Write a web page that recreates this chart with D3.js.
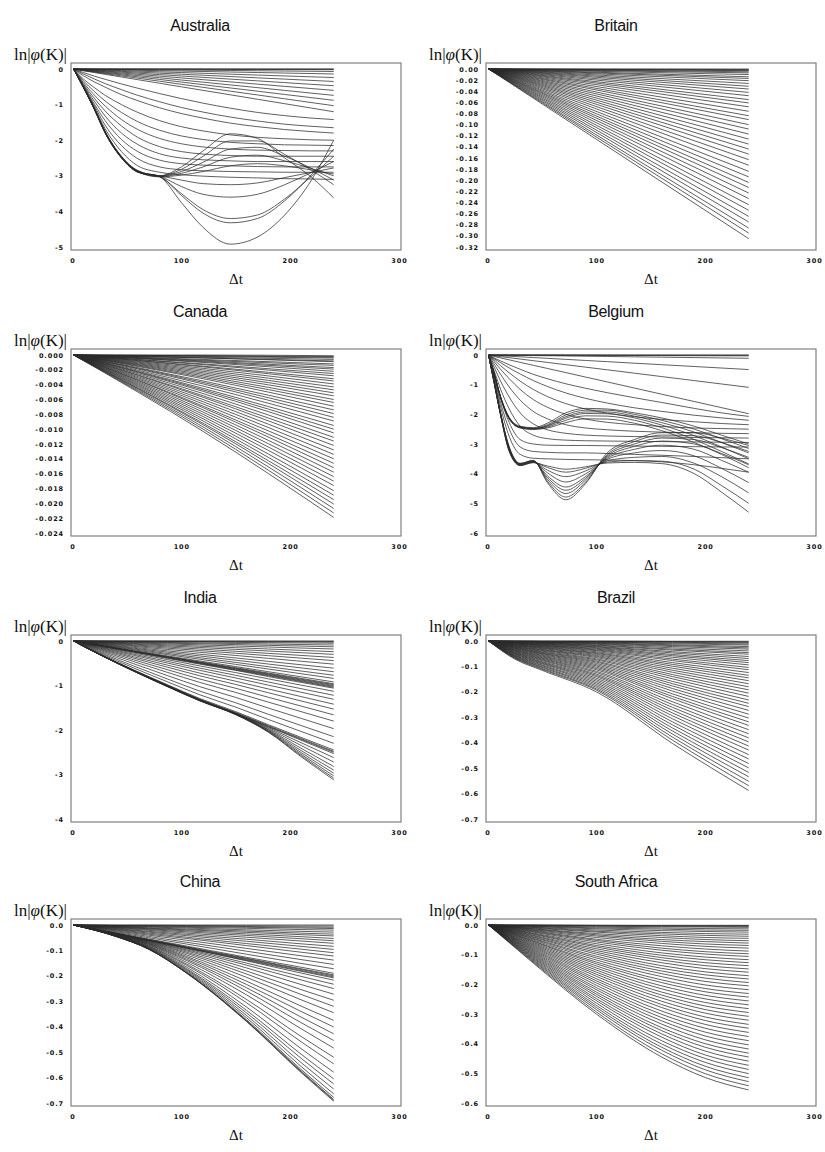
<!DOCTYPE html>
<html>
<head>
<meta charset="utf-8">
<script src="https://cdn.jsdelivr.net/npm/d3@7"></script>
<style>
  body { margin: 0; background: #fff; }
  svg { display: block; }
</style>
</head>
<body>
<svg id="chart" width="825" height="1152"></svg>
<script>
// ── data: ln|phi(K)| against Δt, one row per K, values at each panel's Δt samples ──
var dtTicks = [0, 100, 200, 300];

var australiaTicks = [0, -1, -2, -3, -4, -5];
var australiaDt = [1, 10, 20, 30, 45, 60, 80, 100, 120, 145, 170, 195, 220, 240];
var australiaCurves = [
  [0,0,0,0,0,0,0,0,0,0,0,0,0,0],
  [0,0,0,-0.001,-0.001,-0.001,-0.002,-0.002,-0.003,-0.003,-0.004,-0.004,-0.005,-0.005],
  [0,-0.001,-0.002,-0.003,-0.004,-0.005,-0.007,-0.008,-0.01,-0.012,-0.014,-0.016,-0.018,-0.02],
  [0,-0.003,-0.006,-0.009,-0.013,-0.018,-0.023,-0.029,-0.035,-0.042,-0.05,-0.057,-0.064,-0.07],
  [0,-0.006,-0.012,-0.018,-0.026,-0.035,-0.047,-0.058,-0.07,-0.085,-0.099,-0.114,-0.128,-0.14],
  [0,-0.01,-0.02,-0.03,-0.045,-0.06,-0.08,-0.1,-0.12,-0.145,-0.17,-0.195,-0.22,-0.24],
  [0,-0.015,-0.029,-0.044,-0.066,-0.088,-0.117,-0.146,-0.175,-0.211,-0.248,-0.284,-0.321,-0.35],
  [0,-0.02,-0.039,-0.059,-0.088,-0.118,-0.157,-0.196,-0.235,-0.284,-0.333,-0.382,-0.431,-0.47],
  [0,-0.025,-0.05,-0.075,-0.113,-0.15,-0.2,-0.25,-0.3,-0.362,-0.425,-0.488,-0.55,-0.6],
  [0,-0.031,-0.061,-0.093,-0.139,-0.185,-0.246,-0.309,-0.37,-0.447,-0.524,-0.601,-0.679,-0.74],
  [0,-0.037,-0.073,-0.11,-0.165,-0.22,-0.293,-0.367,-0.44,-0.532,-0.623,-0.715,-0.807,-0.88],
  [0,-0.043,-0.085,-0.129,-0.193,-0.258,-0.343,-0.43,-0.515,-0.622,-0.729,-0.837,-0.945,-1.03],
  [0,-0.05,-0.1,-0.15,-0.225,-0.3,-0.4,-0.5,-0.6,-0.725,-0.85,-0.975,-1.1,-1.2],
  [0,-0.1,-0.2,-0.29,-0.42,-0.54,-0.69,-0.83,-0.96,-1.1,-1.22,-1.31,-1.38,-1.42],
  [0,-0.14,-0.28,-0.41,-0.58,-0.74,-0.92,-1.08,-1.21,-1.35,-1.46,-1.55,-1.61,-1.65],
  [0,-0.19,-0.36,-0.51,-0.72,-0.89,-1.09,-1.25,-1.38,-1.52,-1.62,-1.7,-1.76,-1.8],
  [0,-0.28,-0.52,-0.74,-1.0,-1.22,-1.45,-1.62,-1.74,-1.85,-1.92,-1.96,-1.99,-2.0],
  [0,-0.33,-0.63,-0.9,-1.22,-1.48,-1.72,-1.88,-1.98,-2.06,-2.1,-2.13,-2.14,-2.15],
  [0,-0.38,-0.73,-1.04,-1.42,-1.7,-1.95,-2.1,-2.19,-2.25,-2.28,-2.29,-2.3,-2.3],
  [0,-0.42,-0.82,-1.18,-1.6,-1.92,-2.18,-2.32,-2.39,-2.43,-2.45,-2.45,-2.45,-2.45],
  [0,-0.45,-0.9,-1.32,-1.8,-2.12,-2.38,-2.5,-2.55,-2.58,-2.6,-2.6,-2.6,-2.6],
  [0,-0.47,-0.98,-1.45,-1.98,-2.32,-2.56,-2.66,-2.7,-2.72,-2.74,-2.75,-2.75,-2.75],
  [0,-0.48,-1.03,-1.58,-2.15,-2.52,-2.75,-2.83,-2.86,-2.88,-2.89,-2.9,-2.9,-2.9],
  [0,-0.5,-1.08,-1.68,-2.32,-2.72,-2.9,-2.97,-3.01,-3.04,-3.06,-3.08,-3.09,-3.1],
  [0,-0.5,-1.1,-1.75,-2.45,-2.85,-3.0,-2.75,-2.3,-1.82,-1.95,-2.5,-3.05,-3.62],
  [0,-0.5,-1.1,-1.76,-2.46,-2.86,-3.0,-2.82,-2.45,-2.02,-2.02,-2.4,-2.85,-3.25],
  [0,-0.51,-1.11,-1.77,-2.47,-2.87,-3.01,-2.88,-2.62,-2.25,-2.2,-2.45,-2.8,-3.12],
  [0,-0.51,-1.12,-1.78,-2.48,-2.88,-3.02,-2.93,-2.75,-2.48,-2.42,-2.58,-2.8,-3.0],
  [0,-0.52,-1.12,-1.79,-2.49,-2.89,-3.03,-2.98,-2.88,-2.72,-2.66,-2.72,-2.84,-2.95],
  [0,-0.52,-1.13,-1.8,-2.5,-2.9,-3.03,-3.75,-4.45,-4.92,-4.72,-4.1,-3.1,-2.0],
  [0,-0.52,-1.13,-1.8,-2.5,-2.9,-3.02,-3.55,-4.05,-4.32,-4.2,-3.7,-2.95,-2.25],
  [0,-0.51,-1.12,-1.79,-2.49,-2.89,-3.02,-3.5,-3.95,-4.2,-4.1,-3.65,-3.0,-2.45],
  [0,-0.51,-1.11,-1.78,-2.48,-2.88,-3.01,-3.3,-3.52,-3.6,-3.52,-3.25,-2.9,-2.6],
  [0,-0.5,-1.1,-1.77,-2.47,-2.87,-3.0,-3.12,-3.22,-3.25,-3.2,-3.05,-2.9,-2.78]
];

var britainTicks = [0, -0.02, -0.04, -0.06, -0.08, -0.10, -0.12, -0.14, -0.16, -0.18, -0.20, -0.22, -0.24, -0.26, -0.28, -0.30, -0.32];
var britainDt = [1, 240];
var britainCurves = [
  [0,-0.305],[0,-0.295],[0,-0.286],[0,-0.275],[0,-0.265],[0,-0.254],[0,-0.244],[0,-0.233],
  [0,-0.223],[0,-0.213],[0,-0.204],[0,-0.194],[0,-0.184],[0,-0.173],[0,-0.163],[0,-0.153],
  [0,-0.144],[0,-0.135],[0,-0.126],[0,-0.117],[0,-0.108],[0,-0.1],[0,-0.091],[0,-0.084],
  [0,-0.076],[0,-0.068],[0,-0.061],[0,-0.055],[0,-0.048],[0,-0.042],[0,-0.036],[0,-0.031],
  [0,-0.026],[0,-0.021],[0,-0.017],[0,-0.014],[0,-0.01],[0,-0.007],[0,-0.005],[0,-0.003],
  [0,-0.002],[0,-0.001],[0,0]
];

var canadaTicks = [0, -0.002, -0.004, -0.006, -0.008, -0.010, -0.012, -0.014, -0.016, -0.018, -0.020, -0.022, -0.024];
var canadaDt = [1, 120, 240];
var canadaCurves = [
  [0,-0.0103,-0.0219],[0,-0.0100,-0.0213],[0,-0.0097,-0.0207],[0,-0.0094,-0.0201],[0,-0.0092,-0.0195],
  [0,-0.0089,-0.0189],[0,-0.0086,-0.0183],[0,-0.0083,-0.0176],[0,-0.0080,-0.0170],[0,-0.0077,-0.0164],
  [0,-0.0074,-0.0158],[0,-0.0071,-0.0152],[0,-0.0069,-0.0146],[0,-0.0066,-0.0140],[0,-0.0063,-0.0134],
  [0,-0.0060,-0.0128],[0,-0.0057,-0.0122],[0,-0.0055,-0.0116],[0,-0.0052,-0.0111],[0,-0.0049,-0.0105],
  [0,-0.0047,-0.0100],[0,-0.0045,-0.0095],[0,-0.0042,-0.0089],[0,-0.0039,-0.0084],[0,-0.0037,-0.0079],
  [0,-0.0035,-0.0074],[0,-0.0032,-0.0069],[0,-0.0030,-0.0064],[0,-0.0028,-0.0060],[0,-0.0026,-0.0055],
  [0,-0.0024,-0.0051],[0,-0.0022,-0.0047],[0,-0.0020,-0.0043],[0,-0.0018,-0.0039],[0,-0.0016,-0.0035],
  [0,-0.0015,-0.0032],[0,-0.0013,-0.0028],[0,-0.0012,-0.0025],[0,-0.0010,-0.0022],[0,-0.0009,-0.0019],
  [0,-0.0008,-0.0017],[0,-0.0007,-0.0014],[0,-0.0006,-0.0012],[0,-0.0004,-0.0009],[0,-0.0004,-0.0008],
  [0,-0.0003,-0.0006],[0,-0.0002,-0.0004],[0,-0.0001,-0.0003],[0,-0.0001,-0.0002],[0,0,-0.0001]
];

var belgiumTicks = [0, -1, -2, -3, -4, -5, -6];
var belgiumDt = [1, 6, 12, 20, 30, 42, 55, 72, 90, 110, 135, 160, 190, 215, 240];
var belgiumCurves = [
  [0,0,0,0,0,0,0,0,0,0,0,0,0,0,0],
  [0,0,-0.001,-0.001,-0.001,-0.002,-0.002,-0.003,-0.004,-0.005,-0.006,-0.007,-0.008,-0.009,-0.01],
  [0,-0.001,-0.002,-0.002,-0.004,-0.005,-0.007,-0.009,-0.011,-0.014,-0.017,-0.02,-0.024,-0.027,-0.03],
  [0,-0.003,-0.006,-0.009,-0.014,-0.019,-0.025,-0.033,-0.041,-0.05,-0.062,-0.073,-0.087,-0.099,-0.11],
  [0,-0.012,-0.025,-0.041,-0.061,-0.086,-0.112,-0.147,-0.184,-0.224,-0.276,-0.327,-0.388,-0.439,-0.49],
  [0,-0.027,-0.055,-0.09,-0.136,-0.191,-0.25,-0.327,-0.409,-0.499,-0.613,-0.727,-0.863,-0.977,-1.09],
  [0,-0.05,-0.099,-0.164,-0.248,-0.347,-0.453,-0.594,-0.743,-0.907,-1.114,-1.321,-1.568,-1.774,-1.98],
  [0,-0.1,-0.2,-0.33,-0.48,-0.65,-0.8,-0.97,-1.12,-1.27,-1.44,-1.6,-1.8,-1.95,-2.07],
  [0,-0.12,-0.26,-0.44,-0.64,-0.86,-1.06,-1.28,-1.46,-1.62,-1.78,-1.9,-2.03,-2.12,-2.2],
  [0,-0.16,-0.36,-0.6,-0.88,-1.16,-1.4,-1.64,-1.82,-1.96,-2.08,-2.17,-2.25,-2.31,-2.35],
  [0,-0.22,-0.48,-0.8,-1.16,-1.5,-1.76,-2.0,-2.16,-2.27,-2.35,-2.41,-2.46,-2.48,-2.5],
  [0,-0.3,-0.65,-1.08,-1.52,-1.9,-2.15,-2.35,-2.46,-2.52,-2.57,-2.6,-2.62,-2.64,-2.65],
  [0,-0.4,-0.88,-1.42,-1.95,-2.32,-2.52,-2.64,-2.7,-2.73,-2.75,-2.76,-2.78,-2.79,-2.8],
  [0,-0.52,-1.15,-1.82,-2.4,-2.7,-2.82,-2.87,-2.89,-2.9,-2.91,-2.92,-2.93,-2.94,-2.95],
  [0,-0.65,-1.45,-2.28,-2.85,-3.0,-3.04,-3.05,-3.05,-3.06,-3.07,-3.08,-3.09,-3.1,-3.1],
  [0,-0.7,-1.6,-2.5,-3.1,-3.25,-3.28,-3.3,-3.3,-3.32,-3.35,-3.38,-3.42,-3.46,-3.5],
  [0,-0.75,-1.75,-2.75,-3.35,-3.48,-3.5,-3.52,-3.53,-3.54,-3.56,-3.6,-3.7,-3.82,-3.95],
  [0,-0.6,-1.4,-2.1,-2.4,-2.45,-2.3,-1.95,-1.8,-1.82,-1.95,-2.12,-2.4,-2.7,-3.0],
  [0,-0.6,-1.41,-2.12,-2.42,-2.47,-2.35,-2.02,-1.86,-1.86,-2.0,-2.2,-2.5,-2.82,-3.15],
  [0,-0.61,-1.42,-2.13,-2.43,-2.48,-2.38,-2.08,-1.92,-1.92,-2.06,-2.28,-2.6,-2.95,-3.3],
  [0,-0.61,-1.42,-2.14,-2.44,-2.49,-2.4,-2.13,-1.97,-1.98,-2.12,-2.36,-2.72,-3.1,-3.5],
  [0,-0.62,-1.43,-2.15,-2.45,-2.5,-2.43,-2.2,-2.05,-2.06,-2.2,-2.45,-2.85,-3.25,-3.67],
  [0,-0.62,-1.43,-2.16,-2.46,-2.51,-2.46,-2.28,-2.15,-2.16,-2.3,-2.55,-2.95,-3.35,-3.8],
  [0,-0.85,-1.95,-3.1,-3.65,-3.55,-4.3,-4.88,-4.34,-3.3,-2.85,-2.62,-2.62,-2.8,-3.05],
  [0,-0.86,-1.96,-3.12,-3.66,-3.56,-4.25,-4.79,-4.29,-3.36,-2.92,-2.7,-2.72,-2.95,-3.25],
  [0,-0.87,-1.97,-3.14,-3.67,-3.57,-4.19,-4.67,-4.22,-3.4,-3.0,-2.8,-2.85,-3.12,-3.45],
  [0,-0.88,-1.98,-3.16,-3.68,-3.58,-4.13,-4.56,-4.16,-3.44,-3.08,-2.9,-3.0,-3.32,-3.7],
  [0,-0.89,-1.99,-3.18,-3.69,-3.59,-4.07,-4.45,-4.1,-3.48,-3.18,-3.04,-3.18,-3.55,-3.95],
  [0,-0.9,-2.0,-3.2,-3.7,-3.6,-3.97,-4.28,-4.01,-3.52,-3.3,-3.22,-3.4,-3.82,-4.3],
  [0,-0.91,-2.01,-3.22,-3.71,-3.61,-3.88,-4.1,-3.91,-3.57,-3.45,-3.42,-3.65,-4.1,-4.65],
  [0,-0.92,-2.02,-3.24,-3.72,-3.62,-3.79,-3.95,-3.82,-3.61,-3.56,-3.58,-3.85,-4.4,-5.0],
  [0,-0.93,-2.03,-3.26,-3.73,-3.63,-3.74,-3.85,-3.77,-3.64,-3.62,-3.66,-4.0,-4.62,-5.3]
];

var indiaTicks = [0, -1, -2, -3, -4];
var indiaDt = [1, 25, 56, 87, 117, 150, 180, 210, 240];
var indiaCurves = [
  [0,0,0,0,0,0,0,0,0],
  [0,-0.001,-0.002,-0.004,-0.005,-0.006,-0.008,-0.009,-0.01],
  [0,-0.003,-0.006,-0.009,-0.012,-0.016,-0.019,-0.022,-0.025],
  [0,-0.005,-0.012,-0.018,-0.024,-0.031,-0.038,-0.044,-0.05],
  [0,-0.009,-0.021,-0.033,-0.044,-0.056,-0.068,-0.079,-0.09],
  [0,-0.014,-0.03,-0.047,-0.063,-0.081,-0.098,-0.114,-0.13],
  [0,-0.019,-0.042,-0.065,-0.088,-0.113,-0.135,-0.158,-0.18],
  [0,-0.025,-0.056,-0.087,-0.117,-0.15,-0.18,-0.21,-0.24],
  [0,-0.031,-0.07,-0.109,-0.146,-0.188,-0.225,-0.263,-0.3],
  [0,-0.038,-0.086,-0.134,-0.18,-0.231,-0.278,-0.324,-0.37],
  [0,-0.046,-0.103,-0.16,-0.215,-0.275,-0.33,-0.385,-0.44],
  [0,-0.054,-0.121,-0.189,-0.254,-0.325,-0.39,-0.455,-0.52],
  [0,-0.063,-0.142,-0.221,-0.297,-0.381,-0.458,-0.534,-0.61],
  [0,-0.072,-0.161,-0.25,-0.336,-0.431,-0.518,-0.604,-0.69],
  [0,-0.08,-0.179,-0.279,-0.375,-0.481,-0.578,-0.674,-0.77],
  [0,-0.087,-0.196,-0.305,-0.41,-0.525,-0.63,-0.735,-0.84],
  [0,-0.096,-0.214,-0.334,-0.449,-0.575,-0.69,-0.805,-0.92],
  [0,-0.1,-0.224,-0.348,-0.468,-0.6,-0.72,-0.84,-0.96],
  [0,-0.102,-0.228,-0.355,-0.478,-0.613,-0.735,-0.858,-0.98],
  [0,-0.104,-0.233,-0.363,-0.488,-0.625,-0.75,-0.875,-1.0],
  [0,-0.106,-0.238,-0.37,-0.497,-0.638,-0.765,-0.893,-1.02],
  [0,-0.108,-0.242,-0.377,-0.507,-0.65,-0.78,-0.91,-1.04],
  [0,-0.11,-0.25,-0.39,-0.52,-0.66,-0.8,-0.93,-1.06],
  [0,-0.121,-0.27,-0.418,-0.56,-0.711,-0.851,-0.991,-1.13],
  [0,-0.133,-0.296,-0.456,-0.61,-0.771,-0.922,-1.071,-1.22],
  [0,-0.145,-0.321,-0.494,-0.66,-0.831,-0.992,-1.151,-1.31],
  [0,-0.159,-0.353,-0.541,-0.721,-0.904,-1.078,-1.249,-1.42],
  [0,-0.173,-0.384,-0.588,-0.782,-0.977,-1.163,-1.347,-1.53],
  [0,-0.19,-0.421,-0.643,-0.854,-1.063,-1.265,-1.462,-1.66],
  [0,-0.209,-0.461,-0.703,-0.931,-1.156,-1.374,-1.587,-1.8],
  [0,-0.231,-0.509,-0.775,-1.026,-1.268,-1.507,-1.738,-1.97],
  [0,-0.254,-0.56,-0.851,-1.126,-1.388,-1.647,-1.899,-2.15],
  [0,-0.274,-0.603,-0.915,-1.209,-1.487,-1.764,-2.032,-2.3],
  [0,-0.293,-0.646,-0.979,-1.292,-1.587,-1.881,-2.166,-2.45],
  [0,-0.297,-0.654,-0.991,-1.309,-1.607,-1.904,-2.192,-2.48],
  [0,-0.3,-0.66,-1.0,-1.32,-1.62,-1.92,-2.21,-2.5],
  [0,-0.3,-0.66,-1.0,-1.322,-1.623,-1.926,-2.229,-2.53],
  [0,-0.301,-0.662,-1.003,-1.325,-1.627,-1.945,-2.286,-2.62],
  [0,-0.302,-0.664,-1.006,-1.328,-1.631,-1.966,-2.348,-2.72],
  [0,-0.303,-0.666,-1.009,-1.331,-1.636,-1.987,-2.411,-2.82],
  [0,-0.304,-0.668,-1.012,-1.334,-1.64,-2.004,-2.462,-2.9],
  [0,-0.305,-0.67,-1.015,-1.337,-1.644,-2.019,-2.506,-2.97],
  [0,-0.306,-0.672,-1.018,-1.34,-1.648,-2.031,-2.543,-3.03],
  [0,-0.307,-0.674,-1.021,-1.343,-1.652,-2.042,-2.575,-3.08],
  [0,-0.308,-0.676,-1.024,-1.346,-1.656,-2.05,-2.6,-3.12]
];

var brazilTicks = [0, -0.1, -0.2, -0.3, -0.4, -0.5, -0.6, -0.7];
var brazilDt = [1, 25, 50, 100, 170, 240];
var brazilCurves = [
  [0,-0.071,-0.115,-0.2,-0.403,-0.588],[0,-0.068,-0.111,-0.193,-0.39,-0.569],
  [0,-0.066,-0.108,-0.188,-0.378,-0.552],[0,-0.064,-0.104,-0.182,-0.366,-0.534],
  [0,-0.062,-0.101,-0.176,-0.354,-0.517],[0,-0.06,-0.097,-0.17,-0.342,-0.499],
  [0,-0.058,-0.094,-0.164,-0.33,-0.482],[0,-0.056,-0.09,-0.158,-0.318,-0.464],
  [0,-0.054,-0.087,-0.152,-0.306,-0.447],[0,-0.051,-0.084,-0.146,-0.294,-0.429],
  [0,-0.05,-0.081,-0.14,-0.283,-0.413],[0,-0.048,-0.077,-0.135,-0.272,-0.397],
  [0,-0.046,-0.074,-0.13,-0.261,-0.381],[0,-0.044,-0.071,-0.124,-0.25,-0.365],
  [0,-0.042,-0.068,-0.119,-0.239,-0.349],[0,-0.04,-0.065,-0.113,-0.227,-0.332],
  [0,-0.038,-0.062,-0.108,-0.218,-0.318],[0,-0.036,-0.059,-0.103,-0.208,-0.303],
  [0,-0.035,-0.056,-0.098,-0.197,-0.288],[0,-0.033,-0.053,-0.093,-0.187,-0.273],
  [0,-0.031,-0.05,-0.088,-0.177,-0.258],[0,-0.029,-0.048,-0.083,-0.168,-0.245],
  [0,-0.028,-0.045,-0.079,-0.159,-0.232],[0,-0.026,-0.043,-0.074,-0.149,-0.218],
  [0,-0.025,-0.04,-0.07,-0.14,-0.205],[0,-0.023,-0.037,-0.065,-0.132,-0.192],
  [0,-0.022,-0.035,-0.061,-0.123,-0.18],[0,-0.02,-0.033,-0.057,-0.115,-0.168],
  [0,-0.019,-0.03,-0.053,-0.107,-0.156],[0,-0.017,-0.028,-0.049,-0.099,-0.145],
  [0,-0.016,-0.026,-0.046,-0.092,-0.135],[0,-0.015,-0.024,-0.042,-0.085,-0.124],
  [0,-0.014,-0.022,-0.038,-0.077,-0.113],[0,-0.012,-0.02,-0.035,-0.071,-0.104],
  [0,-0.011,-0.018,-0.032,-0.064,-0.094],[0,-0.01,-0.017,-0.029,-0.058,-0.085],
  [0,-0.009,-0.015,-0.026,-0.053,-0.077],[0,-0.008,-0.013,-0.023,-0.047,-0.069],
  [0,-0.007,-0.012,-0.021,-0.042,-0.061],[0,-0.006,-0.01,-0.018,-0.036,-0.052],
  [0,-0.006,-0.009,-0.016,-0.032,-0.046],[0,-0.005,-0.008,-0.013,-0.027,-0.039],
  [0,-0.004,-0.006,-0.011,-0.022,-0.032],[0,-0.003,-0.005,-0.009,-0.018,-0.027],
  [0,-0.003,-0.004,-0.007,-0.015,-0.022],[0,-0.002,-0.003,-0.005,-0.011,-0.016],
  [0,-0.001,-0.002,-0.004,-0.008,-0.012],[0,-0.001,-0.002,-0.003,-0.005,-0.008],
  [0,-0.001,-0.001,-0.002,-0.003,-0.005],[0,0,-0.001,-0.001,-0.002,-0.003],
  [0,0,0,0,-0.001,-0.001]
];

var chinaTicks = [0, -0.1, -0.2, -0.3, -0.4, -0.5, -0.6, -0.7];
var chinaDt = [1, 40, 70, 105, 160, 210, 240];
var chinaCurves = [
  [0,0,0,0,0,0,0],
  [0,-0.001,-0.001,-0.002,-0.003,-0.004,-0.004],
  [0,-0.002,-0.003,-0.004,-0.006,-0.008,-0.009],
  [0,-0.002,-0.004,-0.006,-0.009,-0.012,-0.014],
  [0,-0.003,-0.006,-0.009,-0.013,-0.018,-0.02],
  [0,-0.005,-0.008,-0.012,-0.019,-0.025,-0.028],
  [0,-0.006,-0.011,-0.016,-0.024,-0.032,-0.036],
  [0,-0.007,-0.013,-0.019,-0.029,-0.038,-0.043],
  [0,-0.009,-0.015,-0.023,-0.035,-0.046,-0.053],
  [0,-0.01,-0.018,-0.027,-0.041,-0.054,-0.062],
  [0,-0.012,-0.021,-0.032,-0.048,-0.063,-0.072],
  [0,-0.014,-0.025,-0.037,-0.056,-0.074,-0.084],
  [0,-0.016,-0.028,-0.042,-0.064,-0.084,-0.096],
  [0,-0.018,-0.032,-0.048,-0.073,-0.095,-0.109],
  [0,-0.02,-0.036,-0.053,-0.081,-0.107,-0.122],
  [0,-0.023,-0.04,-0.06,-0.092,-0.121,-0.138],
  [0,-0.026,-0.045,-0.068,-0.103,-0.136,-0.155],
  [0,-0.029,-0.05,-0.075,-0.115,-0.151,-0.172],
  [0,-0.032,-0.055,-0.083,-0.127,-0.166,-0.19],
  [0,-0.033,-0.057,-0.086,-0.131,-0.172,-0.196],
  [0,-0.033,-0.058,-0.088,-0.133,-0.175,-0.2],
  [0,-0.034,-0.06,-0.089,-0.136,-0.179,-0.204],
  [0,-0.035,-0.061,-0.091,-0.139,-0.182,-0.208],
  [0,-0.033,-0.059,-0.091,-0.141,-0.189,-0.217],
  [0,-0.034,-0.06,-0.094,-0.15,-0.202,-0.233],
  [0,-0.034,-0.062,-0.098,-0.158,-0.216,-0.25],
  [0,-0.035,-0.063,-0.102,-0.169,-0.234,-0.272],
  [0,-0.035,-0.065,-0.107,-0.181,-0.254,-0.296],
  [0,-0.036,-0.067,-0.112,-0.193,-0.273,-0.32],
  [0,-0.037,-0.069,-0.118,-0.206,-0.294,-0.345],
  [0,-0.037,-0.071,-0.124,-0.221,-0.319,-0.375],
  [0,-0.038,-0.073,-0.129,-0.234,-0.34,-0.401],
  [0,-0.039,-0.075,-0.135,-0.247,-0.362,-0.428],
  [0,-0.039,-0.077,-0.14,-0.26,-0.384,-0.454],
  [0,-0.04,-0.079,-0.147,-0.275,-0.408,-0.484],
  [0,-0.041,-0.082,-0.154,-0.293,-0.438,-0.52],
  [0,-0.041,-0.084,-0.159,-0.306,-0.459,-0.546],
  [0,-0.042,-0.086,-0.166,-0.323,-0.486,-0.579],
  [0,-0.043,-0.088,-0.172,-0.336,-0.508,-0.605],
  [0,-0.043,-0.09,-0.176,-0.346,-0.524,-0.625],
  [0,-0.044,-0.091,-0.18,-0.356,-0.541,-0.645],
  [0,-0.044,-0.093,-0.184,-0.365,-0.556,-0.664],
  [0,-0.045,-0.094,-0.187,-0.373,-0.568,-0.678],
  [0,-0.045,-0.095,-0.189,-0.377,-0.574,-0.686],
  [0,-0.045,-0.095,-0.189,-0.378,-0.577,-0.689],
  [0,-0.045,-0.095,-0.19,-0.38,-0.58,-0.693]
];

var southAfricaTicks = [0, -0.1, -0.2, -0.3, -0.4, -0.5, -0.6];
var southAfricaDt = [1, 40, 100, 160, 200, 240];
var southAfricaCurves = [
  [0,-0.122,-0.3,-0.445,-0.514,-0.556],[0,-0.119,-0.293,-0.434,-0.501,-0.542],
  [0,-0.116,-0.285,-0.422,-0.488,-0.528],[0,-0.113,-0.278,-0.412,-0.476,-0.515],
  [0,-0.11,-0.271,-0.401,-0.463,-0.501],[0,-0.107,-0.263,-0.39,-0.45,-0.487],
  [0,-0.104,-0.255,-0.378,-0.438,-0.473],[0,-0.101,-0.248,-0.367,-0.425,-0.459],
  [0,-0.098,-0.24,-0.356,-0.412,-0.445],[0,-0.095,-0.233,-0.346,-0.4,-0.432],
  [0,-0.092,-0.226,-0.334,-0.387,-0.418],[0,-0.089,-0.218,-0.323,-0.374,-0.404],
  [0,-0.086,-0.211,-0.312,-0.361,-0.39],[0,-0.083,-0.203,-0.301,-0.348,-0.376],
  [0,-0.08,-0.195,-0.29,-0.335,-0.362],[0,-0.077,-0.188,-0.278,-0.322,-0.348],
  [0,-0.074,-0.181,-0.268,-0.31,-0.335],[0,-0.071,-0.173,-0.257,-0.297,-0.321],
  [0,-0.068,-0.166,-0.246,-0.285,-0.308],[0,-0.065,-0.159,-0.236,-0.273,-0.295],
  [0,-0.062,-0.152,-0.226,-0.261,-0.282],[0,-0.059,-0.145,-0.215,-0.249,-0.269],
  [0,-0.056,-0.138,-0.205,-0.237,-0.256],[0,-0.053,-0.131,-0.194,-0.225,-0.243],
  [0,-0.051,-0.125,-0.185,-0.214,-0.231],[0,-0.048,-0.118,-0.174,-0.202,-0.218],
  [0,-0.045,-0.111,-0.164,-0.19,-0.205],[0,-0.043,-0.105,-0.155,-0.179,-0.194],
  [0,-0.04,-0.098,-0.146,-0.168,-0.182],[0,-0.038,-0.092,-0.137,-0.158,-0.171],
  [0,-0.035,-0.086,-0.127,-0.147,-0.159],[0,-0.033,-0.08,-0.118,-0.137,-0.148],
  [0,-0.03,-0.074,-0.11,-0.127,-0.137],[0,-0.028,-0.069,-0.102,-0.117,-0.127],
  [0,-0.026,-0.063,-0.094,-0.108,-0.117],[0,-0.023,-0.057,-0.085,-0.098,-0.106],
  [0,-0.021,-0.052,-0.078,-0.09,-0.097],[0,-0.019,-0.048,-0.07,-0.081,-0.088],
  [0,-0.017,-0.042,-0.062,-0.072,-0.078],[0,-0.015,-0.037,-0.055,-0.064,-0.069],
  [0,-0.013,-0.033,-0.049,-0.056,-0.061],[0,-0.012,-0.029,-0.042,-0.049,-0.053],
  [0,-0.01,-0.024,-0.036,-0.042,-0.045],[0,-0.008,-0.021,-0.03,-0.035,-0.038],
  [0,-0.007,-0.017,-0.025,-0.029,-0.031],[0,-0.005,-0.013,-0.019,-0.022,-0.024],
  [0,-0.004,-0.01,-0.014,-0.017,-0.018],[0,-0.003,-0.007,-0.01,-0.012,-0.013],
  [0,-0.002,-0.004,-0.006,-0.007,-0.008],[0,-0.001,-0.003,-0.004,-0.005,-0.005],
  [0,0,-0.001,-0.002,-0.002,-0.002],[0,0,-0.001,-0.001,-0.001,-0.001]
];

// ── layout ──
(function () {
  'use strict';

  var panels = [
    { name: 'Australia',    dt: australiaDt,    curves: australiaCurves,    ticks: australiaTicks,    digits: 0, col: 0, row: 0 },
    { name: 'Britain',      dt: britainDt,      curves: britainCurves,      ticks: britainTicks,      digits: 2, col: 1, row: 0 },
    { name: 'Canada',       dt: canadaDt,       curves: canadaCurves,       ticks: canadaTicks,       digits: 3, col: 0, row: 1 },
    { name: 'Belgium',      dt: belgiumDt,      curves: belgiumCurves,      ticks: belgiumTicks,      digits: 0, col: 1, row: 1 },
    { name: 'India',        dt: indiaDt,        curves: indiaCurves,        ticks: indiaTicks,        digits: 0, col: 0, row: 2 },
    { name: 'Brazil',       dt: brazilDt,       curves: brazilCurves,       ticks: brazilTicks,       digits: 1, col: 1, row: 2 },
    { name: 'China',        dt: chinaDt,        curves: chinaCurves,        ticks: chinaTicks,        digits: 1, col: 0, row: 3 },
    { name: 'South Africa', dt: southAfricaDt,  curves: southAfricaCurves,  ticks: southAfricaTicks,  digits: 1, col: 1, row: 3 }
  ];

  var svg = d3.select('#chart');
  var colX = [71, 486], titleX = [200, 616];
  var rowY = [63, 349, 635, 919];
  var boxW = 330, boxH = 187;
  var tickFont = 'bold 6.5px "DejaVu Sans", sans-serif';

  panels.forEach(function (p) {
    var x0 = colX[p.col], y0 = rowY[p.row];
    var g = svg.append('g').attr('transform', 'translate(' + x0 + ',' + y0 + ')');

    var x = d3.scaleLinear().domain([0, 300]).range([1.5, boxW - 2]);
    var y = d3.scaleLinear().domain([0, p.ticks[p.ticks.length - 1]]).range([6, boxH - 3]);

    var line = d3.line()
      .x(function (d, i) { return x(p.dt[i]); })
      .y(function (d) { return y(d); })
      .curve(d3.curveMonotoneX);

    g.append('g').selectAll('path').data(p.curves).join('path')
      .attr('d', line)
      .attr('fill', 'none')
      .attr('stroke', '#2b2b2b')
      .attr('stroke-width', 0.75);

    g.append('rect')
      .attr('width', boxW).attr('height', boxH)
      .attr('fill', 'none').attr('stroke', '#808080').attr('stroke-width', 1.2);

    // Axes
    var yAxis = g.append('g').call(d3.axisLeft(y).tickValues(p.ticks).tickSize(0).tickPadding(7)
      .tickFormat(function (v) { return v.toFixed(p.digits); }));
    var xAxis = g.append('g').attr('transform', 'translate(0,' + boxH + ')')
      .call(d3.axisBottom(x).tickValues(dtTicks).tickSize(0).tickPadding(8.5)
      .tickFormat(function (v) { return String(v); }));
    [yAxis, xAxis].forEach(function (a) {
      a.select('.domain').remove();
      a.selectAll('text').style('font', tickFont).style('letter-spacing', '0.9px').attr('fill', '#111');
    });

    // Title
    svg.append('text')
      .attr('x', titleX[p.col]).attr('y', y0 - 32)
      .attr('text-anchor', 'middle')
      .style('font', '16px "Liberation Sans", Arial, sans-serif')
      .style('letter-spacing', '-0.3px')
      .attr('fill', '#111')
      .text(p.name);

    // Y label ln|φ(K)|
    var yl = svg.append('text')
      .attr('x', x0 - 4).attr('y', y0 - 3)
      .attr('text-anchor', 'end')
      .style('font', '17px "Liberation Serif", "Times New Roman", serif')
      .attr('fill', '#111');
    yl.append('tspan').text('ln|');
    yl.append('tspan').style('font-style', 'italic').text('φ');
    yl.append('tspan').text('(K)|');

    // X label Δt
    svg.append('text')
      .attr('x', x0 + boxW / 2).attr('y', y0 + boxH + 34)
      .attr('text-anchor', 'middle')
      .style('font', '15px "Liberation Serif", "Times New Roman", serif')
      .attr('fill', '#111')
      .text('Δt');
  });
})();
</script>
</body>
</html>
